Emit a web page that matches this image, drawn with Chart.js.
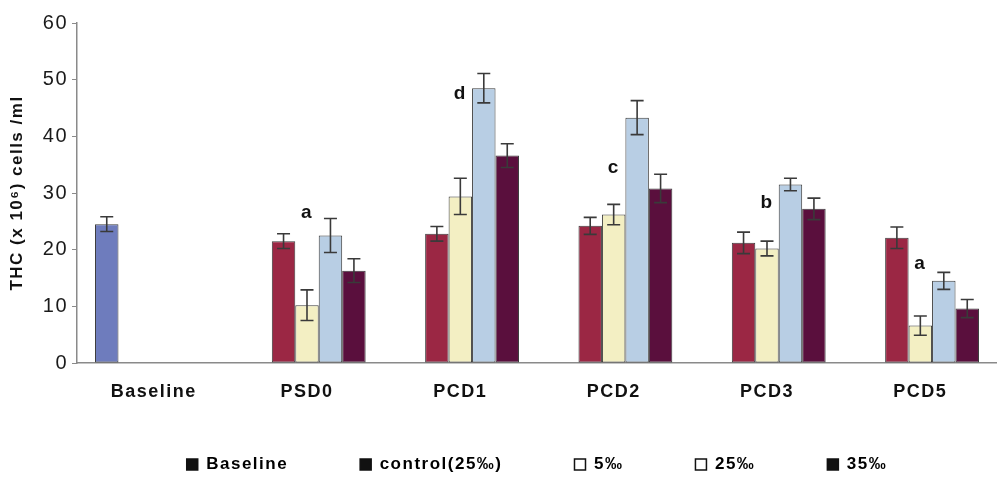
<!DOCTYPE html>
<html>
<head>
<meta charset="utf-8">
<script src="https://cdn.jsdelivr.net/npm/chart.js@4"></script>
<style>
html,body{margin:0;padding:0;background:#fff;}
#wrap{width:997px;height:477px;position:relative;}
</style>
</head>
<body>
<div id="wrap"><canvas id="c" width="997" height="477"></canvas></div>
<script>
// ---- data ----
const categories = ['Baseline', 'PSD0', 'PCD1', 'PCD2', 'PCD3', 'PCD5'];
const baselineVals = [24.5, null, null, null, null, null];
const baselineErr  = [1.3, null, null, null, null, null];
const controlVals  = [null, 21.5, 22.8, 24.2, 21.2, 22.1];
const controlErr   = [null, 1.3, 1.3, 1.5, 1.9, 1.9];
const p5Vals       = [null, 10.2, 29.4, 26.2, 20.2, 6.6];
const p5Err        = [null, 2.7, 3.2, 1.8, 1.3, 1.7];
const p25Vals      = [null, 22.5, 48.5, 43.3, 31.5, 14.5];
const p25Err       = [null, 3.0, 2.6, 3.0, 1.1, 1.5];
const p35Vals      = [null, 16.3, 36.6, 30.8, 27.2, 9.6];
const p35Err       = [null, 2.1, 2.1, 2.5, 1.9, 1.6];
const sigLetters   = ['', 'a', 'd', 'c', 'b', 'a'];
const sigLetterAt  = [null, 26.6, 47.5, 34.5, 28.3, 17.6];
const yTicks = [0, 10, 20, 30, 40, 50, 60];
const seriesNames = ['Baseline', 'control(25‰)', '5‰', '25‰', '35‰'];

const errs = [baselineErr, controlErr, p5Err, p25Err, p35Err];
const legendFill = ['#111', '#111', '#fff', '#fff', '#111'];

const spacing = {
  id: 'spacing',
  beforeUpdate(chart) { chart.ctx.letterSpacing = '1.5px'; },
  beforeDraw(chart) { chart.ctx.letterSpacing = '1.5px'; }
};

const errorBars = {
  id: 'errorBars',
  afterDatasetsDraw(chart) {
    const ctx = chart.ctx, y = chart.scales.y;
    ctx.save();
    ctx.strokeStyle = '#3a3a3a';
    ctx.lineWidth = 1.6;
    chart.data.datasets.forEach((ds, i) => {
      const meta = chart.getDatasetMeta(i);
      meta.data.forEach((el, j) => {
        const v = ds.data[j], e = errs[i][j];
        if (v == null || e == null) return;
        const top = y.getPixelForValue(v + e), bot = y.getPixelForValue(v - e);
        const x = el.x, cap = 6.5;
        ctx.beginPath();
        ctx.moveTo(x, top); ctx.lineTo(x, bot);
        ctx.moveTo(x - cap, top); ctx.lineTo(x + cap, top);
        ctx.moveTo(x - cap, bot); ctx.lineTo(x + cap, bot);
        ctx.stroke();
      });
    });
    // significance letters above the 5‰ bar column
    const meta5 = chart.getDatasetMeta(2);
    ctx.fillStyle = '#111';
    ctx.font = 'bold 19px "Liberation Sans", Arial, sans-serif';
    ctx.textAlign = 'center';
    ctx.textBaseline = 'middle';
    sigLetters.forEach((t, j) => {
      if (!t) return;
      ctx.fillText(t, meta5.data[j].x, y.getPixelForValue(sigLetterAt[j]));
    });
    ctx.restore();
  }
};

const colors = ['#6e7cbd', '#9b2744', '#f3efc3', '#b8cee4', '#5a0f3d'];
const vals = [baselineVals, controlVals, p5Vals, p25Vals, p35Vals];

new Chart(document.getElementById('c'), {
  type: 'bar',
  data: {
    labels: categories,
    datasets: vals.map((d, i) => ({
      label: seriesNames[i],
      data: d,
      backgroundColor: colors[i],
      borderColor: '#3b3b3b',
      borderWidth: 1,
      borderSkipped: false
    }))
  },
  options: {
    responsive: false,
    animation: false,
    layout: { padding: { top: 23, right: -3, bottom: 0, left: 0 } },
    datasets: { bar: { categoryPercentage: 0.765, barPercentage: 1.0 } },
    scales: {
      x: {
        grid: { display: false, drawTicks: false },
        border: { display: true, color: '#8a8a8a', width: 1.5 },
        ticks: {
          color: '#111',
          mirror: true,
          padding: -40,
          font: { family: '"Liberation Sans", Arial, sans-serif', size: 18, weight: 'bold' }
        },
        afterFit(s) { s.height = 21; }
      },
      y: {
        min: 0, max: 60,
        afterBuildTicks(s) { s.ticks = yTicks.map(v => ({ value: v })); },
        grid: { drawOnChartArea: false, drawTicks: true, tickLength: 5, color: '#8a8a8a' },
        border: { display: true, color: '#8a8a8a', width: 1.5 },
        ticks: {
          color: '#1a1a1a',
          padding: 4,
          font: { family: '"Liberation Sans", Arial, sans-serif', size: 20 }
        },
        title: {
          display: true,
          text: 'THC (x 10⁶) cells /ml',
          color: '#111',
          padding: { top: 7, bottom: 0 },
          font: { family: '"Liberation Sans", Arial, sans-serif', size: 17, weight: 'bold' }
        },
        afterFit(s) { s.width = 77; }
      }
    },
    plugins: {
      tooltip: { enabled: false },
      legend: {
        position: 'bottom',
        fullSize: false,
        maxHeight: 93,
        labels: {
          boxWidth: 11,
          boxHeight: 11,
          padding: 72,
          color: '#111',
          font: { family: '"Liberation Sans", Arial, sans-serif', size: 17, weight: 'bold' },
          generateLabels(chart) {
            return chart.data.datasets.map((ds, i) => ({
              text: ds.label,
              fillStyle: legendFill[i],
              strokeStyle: '#111',
              lineWidth: 1.5,
              hidden: false,
              datasetIndex: i
            }));
          }
        }
      }
    }
  },
  plugins: [spacing, errorBars]
});
</script>
</body>
</html>
